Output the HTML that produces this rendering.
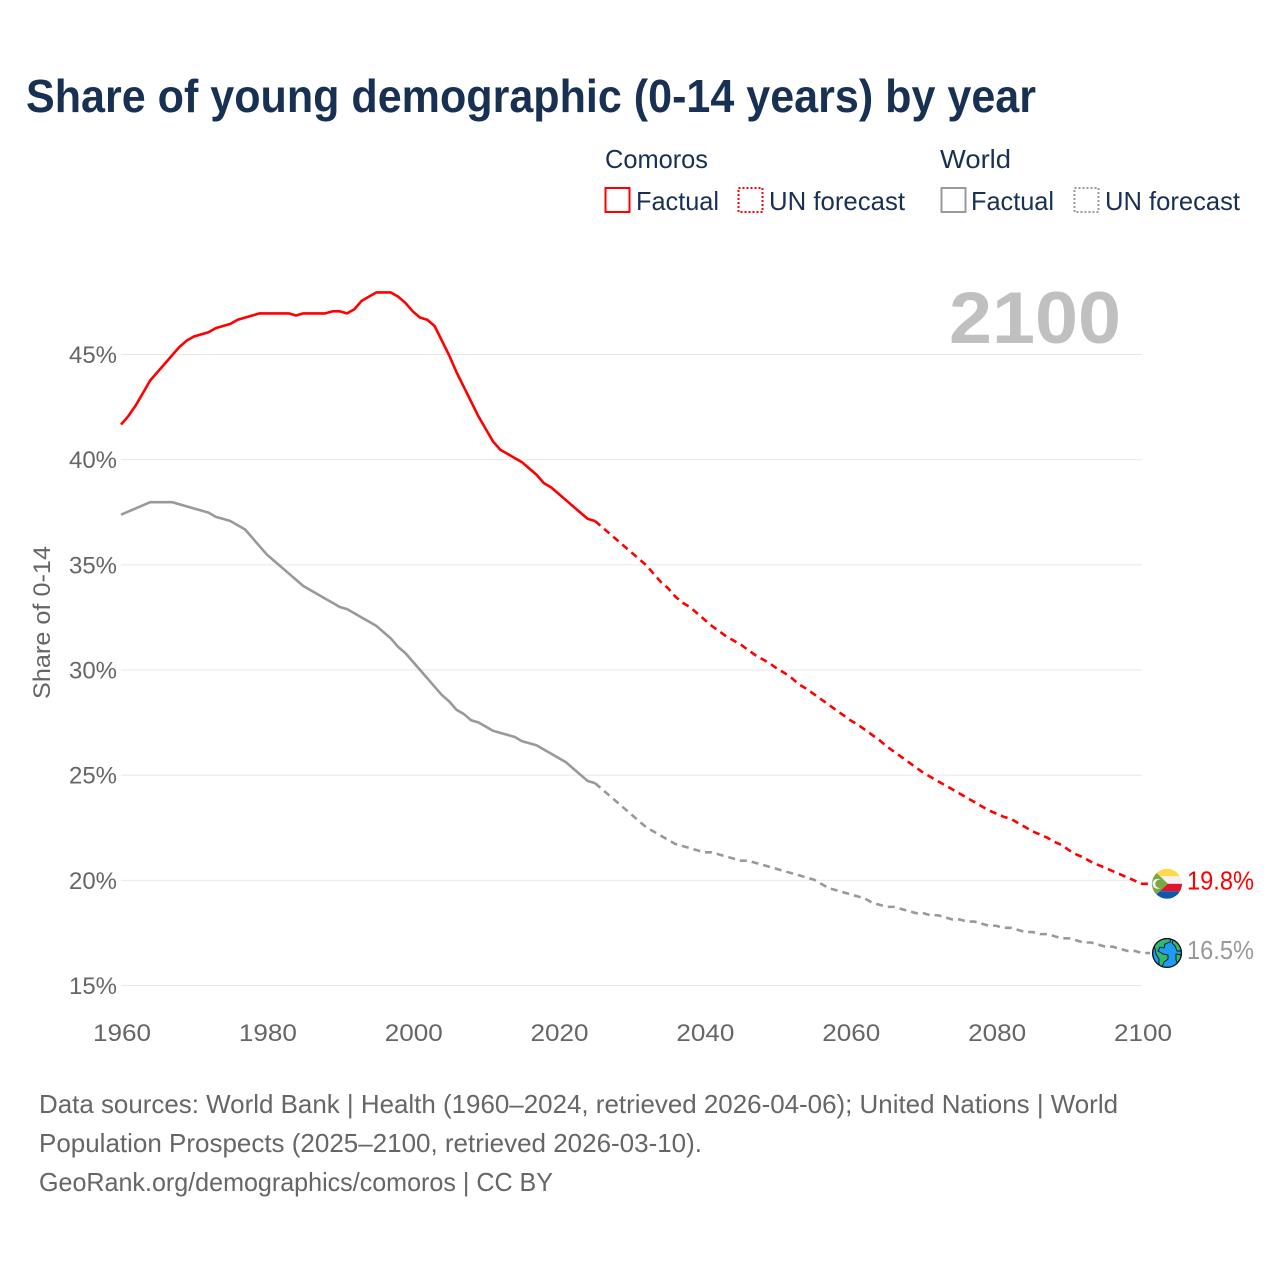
<!DOCTYPE html>
<html lang="en">
<head>
<meta charset="utf-8">
<title>Share of young demographic (0-14 years) by year</title>
<style>
html,body{margin:0;padding:0;background:#fff;width:1280px;height:1280px;overflow:hidden}
svg{display:block}
text{font-family:"Liberation Sans",Arial,sans-serif}
</style>
</head>
<body>
<svg id="chart" xmlns="http://www.w3.org/2000/svg" width="1280" height="1280" viewBox="0 0 1280 1280">
  <defs>
    <clipPath id="flag-clip"><circle cx="0" cy="0" r="15"></circle></clipPath>
  </defs>
  <rect x="0" y="0" width="1280" height="1280" fill="#fff"></rect>
  <text x="26" y="112" font-size="46" font-weight="700" fill="#183153" textLength="1010" lengthAdjust="spacingAndGlyphs">Share of young demographic (0-14 years) by year</text>

  <g font-size="26" fill="#183153">
    <text x="605" y="168" textLength="103" lengthAdjust="spacingAndGlyphs">Comoros</text>
    <text x="940" y="168" textLength="71" lengthAdjust="spacingAndGlyphs">World</text>
    <rect x="605.5" y="188" width="24" height="24" fill="none" stroke="#ff0000" stroke-width="2"></rect>
    <text x="636" y="210" textLength="83" lengthAdjust="spacingAndGlyphs">Factual</text>
    <rect x="738.5" y="188" width="24" height="24" fill="none" stroke="#ff0000" stroke-width="2" stroke-dasharray="2 2"></rect>
    <text x="769" y="210" textLength="136" lengthAdjust="spacingAndGlyphs">UN forecast</text>
    <rect x="941.5" y="188" width="24" height="24" fill="none" stroke="#999999" stroke-width="2"></rect>
    <text x="971" y="210" textLength="83" lengthAdjust="spacingAndGlyphs">Factual</text>
    <rect x="1074.5" y="188" width="24" height="24" fill="none" stroke="#999999" stroke-width="2" stroke-dasharray="2 2"></rect>
    <text x="1105" y="210" textLength="135" lengthAdjust="spacingAndGlyphs">UN forecast</text>
  </g>

  <g id="grid"></g>
  <text x="949" y="343" font-size="73" font-weight="700" fill="#c0c0c0" textLength="172" lengthAdjust="spacingAndGlyphs">2100</text>
  <g id="y-ticks" font-size="24" fill="#666666" text-anchor="end"></g>
  <g id="x-ticks" font-size="24" fill="#666666" text-anchor="middle"></g>
  <text transform="translate(50,622.5) rotate(-90)" font-size="24" fill="#666666" text-anchor="middle" textLength="153" lengthAdjust="spacingAndGlyphs">Share of 0-14</text>
  <g id="series" fill="none" stroke-width="2.6" stroke-linejoin="round"></g>

  <g id="flag-comoros">
    <g clip-path="url(#flag-clip)">
      <rect x="-15" y="-15" width="30" height="7.5" fill="#ffd84d"></rect>
      <rect x="-15" y="-7.5" width="30" height="7.5" fill="#f2f2f2"></rect>
      <rect x="-15" y="0" width="30" height="7.5" fill="#e0142f"></rect>
      <rect x="-15" y="7.5" width="30" height="7.5" fill="#0a56b0"></rect>
      <polygon points="-15,-15 1,0 -15,15" fill="#7aa845"></polygon>
      <circle cx="-9.5" cy="0" r="5" fill="#f4f4f4"></circle>
      <circle cx="-7.5" cy="0" r="4.2" fill="#7aa845"></circle>
    </g>
  </g>
  <g id="flag-world">
    <g clip-path="url(#flag-clip)">
      <circle cx="0" cy="0" r="15" fill="#1e9cf5"></circle>
      <path d="M-13,-9 L-6,-15 L4,-15 L3,-11 L-2,-9 L-3,-5 L-7,-6 L-9,-2 L-4,1 L1,2 L1,6 L-3,9 L-5,14 L-8,12 L-8,6 L-11,1 Z" fill="#2dbb72" stroke="#111" stroke-width="0.9"></path>
      <path d="M7,-14 L15,-8 L15,-2 L10,-2 L8,-7 L5,-10 Z M9,1 L15,2 L14,9 L11,11 L9,7 Z" fill="#2dbb72" stroke="#111" stroke-width="0.9"></path>
    </g>
    <circle cx="0" cy="0" r="14.4" fill="none" stroke="#111" stroke-width="1.3"></circle>
  </g>

  <text id="label-comoros" x="1187" font-size="26" fill="#ff0000" textLength="67" lengthAdjust="spacingAndGlyphs"></text>
  <text id="label-world" x="1187" font-size="26" fill="#999999" textLength="67" lengthAdjust="spacingAndGlyphs"></text>

  <g font-size="26" fill="#666666">
    <text x="39" y="1113" textLength="1079" lengthAdjust="spacingAndGlyphs">Data sources: World Bank | Health (1960–2024, retrieved 2026-04-06); United Nations | World</text>
    <text x="39" y="1152" textLength="663" lengthAdjust="spacingAndGlyphs">Population Prospects (2025–2100, retrieved 2026-03-10).</text>
    <text x="39" y="1191" textLength="514" lengthAdjust="spacingAndGlyphs">GeoRank.org/demographics/comoros | CC BY</text>
  </g>
</svg>

<script>
const yTickValues = [15, 20, 25, 30, 35, 40, 45];
const xTickValues = [1960, 1980, 2000, 2020, 2040, 2060, 2080, 2100];
const factualFirstYear = 1960;
const forecastFirstYear = 2025;

const comorosFactual = [
  41.7,42.1,42.6,43.2,43.8,44.2,44.6,45.0,45.4,45.7,
  45.9,46.0,46.1,46.3,46.4,46.5,46.7,46.8,46.9,47.0,
  47.0,47.0,47.0,47.0,46.9,47.0,47.0,47.0,47.0,47.1,
  47.1,47.0,47.2,47.6,47.8,48.0,48.0,48.0,47.8,47.5,
  47.1,46.8,46.7,46.4,45.7,45.0,44.2,43.5,42.8,42.1,
  41.5,40.9,40.5,40.3,40.1,39.9,39.6,39.3,38.9,38.7,
  38.4,38.1,37.8,37.5,37.2
];
const comorosForecast = [
  37.1,36.8,36.5,36.2,35.9,35.6,35.3,35.0,34.6,34.2,33.9,33.5,33.2,33.0,32.7,32.4,
  32.1,31.85,31.6,31.4,31.2,30.95,30.7,30.5,30.3,30.05,
  29.85,29.6,29.3,29.1,28.85,28.6,28.35,28.1,27.85,27.6,
  27.4,27.15,26.9,26.65,26.35,26.1,25.85,25.6,25.35,25.1,
  24.9,24.7,24.5,24.3,24.1,23.9,23.7,23.5,23.3,23.15,
  23.0,22.9,22.7,22.5,22.3,22.15,22.0,21.8,21.65,21.4,
  21.2,21.05,20.85,20.7,20.55,20.4,20.25,20.1,19.95,19.8
];
const worldFactual = [
  37.4,37.55,37.7,37.85,38.0,38.0,38.0,38.0,37.9,37.8,
  37.7,37.6,37.5,37.3,37.2,37.1,36.9,36.7,36.3,35.9,
  35.5,35.2,34.9,34.6,34.3,34.0,33.8,33.6,33.4,33.2,
  33.0,32.9,32.7,32.5,32.3,32.1,31.8,31.5,31.1,30.8,
  30.4,30.0,29.6,29.2,28.8,28.5,28.1,27.9,27.6,27.5,
  27.3,27.1,27.0,26.9,26.8,26.6,26.5,26.4,26.2,26.0,
  25.8,25.6,25.3,25.0,24.7
];
const worldForecast = [
  24.6,24.3,24.0,23.7,23.4,23.1,22.8,22.5,22.3,22.1,21.9,21.7,21.6,21.5,21.4,21.3,
  21.3,21.2,21.1,21.0,20.9,20.9,20.8,20.7,20.6,20.5,
  20.4,20.3,20.2,20.1,20.0,19.8,19.6,19.5,19.4,19.3,
  19.2,19.1,18.9,18.8,18.7,18.7,18.6,18.5,18.4,18.4,
  18.3,18.3,18.2,18.1,18.1,18.0,18.0,17.9,17.8,17.8,
  17.7,17.7,17.6,17.5,17.5,17.4,17.4,17.3,17.2,17.2,
  17.1,17.0,17.0,16.9,16.8,16.8,16.7,16.6,16.6,16.5
];

const SVG_NS = 'http://www.w3.org/2000/svg';
function xScale(year) { return 121 + (year - 1960) * (1142 - 121) / 140; }
function yScale(pct) { return 985.5 - (pct - 15) * (985.5 - 354.5) / 30; }
function yLine(pct) { return 953 - (pct - 16.5) * 20.97; }
function pathFrom(values, firstYear) {
  return values.map(function (v, i) {
    return (i ? 'L' : 'M') + xScale(firstYear + i).toFixed(2) + ',' + yLine(v).toFixed(2);
  }).join(' ');
}

const gridGroup = document.getElementById('grid');
const yTickGroup = document.getElementById('y-ticks');
yTickValues.forEach(function (t) {
  const line = document.createElementNS(SVG_NS, 'line');
  
  
  line.setAttribute('x1', xScale(1960));
  line.setAttribute('x2', xScale(2100));
  line.setAttribute('y1', yScale(t));
  line.setAttribute('y2', yScale(t));
  line.setAttribute('stroke', '#e8e8e8');
  line.setAttribute('stroke-width', '1');
  gridGroup.appendChild(line);

  const label = document.createElementNS(SVG_NS, 'text');
  
  
  label.setAttribute('x', 117);
  label.setAttribute('y', yScale(t) + 8.5);
  label.setAttribute('textLength', '48');
  label.setAttribute('lengthAdjust', 'spacingAndGlyphs');
  label.textContent = t + '%';
  yTickGroup.appendChild(label);
});

const xTickGroup = document.getElementById('x-ticks');
xTickValues.forEach(function (t) {
  const label = document.createElementNS(SVG_NS, 'text');
  
  
  label.setAttribute('x', xScale(t) + 1);
  label.setAttribute('y', 1041);
  label.setAttribute('textLength', '58');
  label.setAttribute('lengthAdjust', 'spacingAndGlyphs');
  label.textContent = t;
  xTickGroup.appendChild(label);
});

const seriesGroup = document.getElementById('series');
function drawSeries(factual, forecast, color, key) {
  const solid = document.createElementNS(SVG_NS, 'path');
  
  
  solid.setAttribute('d', pathFrom(factual.concat(forecast.slice(0, 1)), factualFirstYear));
  solid.setAttribute('stroke', color);
  seriesGroup.appendChild(solid);

  const lastYear = forecastFirstYear + forecast.length - 1;
  const lastValue = forecast[forecast.length - 1];
  const dashed = document.createElementNS(SVG_NS, 'path');
  
  
  dashed.setAttribute('d', pathFrom(forecast, forecastFirstYear) + ' L' + (xScale(lastYear) + 8) + ',' + yLine(lastValue));
  dashed.setAttribute('stroke', color);
  dashed.setAttribute('stroke-dasharray', '7 5');
  seriesGroup.appendChild(dashed);
}
drawSeries(comorosFactual, comorosForecast, '#ff0000', 'comoros');
drawSeries(worldFactual, worldForecast, '#999999', 'world');

function placeEnd(flagId, labelId, values, baselineOffset) {
  const last = values[values.length - 1];
  document.getElementById(flagId).setAttribute('transform', 'translate(1167,' + yLine(last).toFixed(2) + ')');
  const label = document.getElementById(labelId);
  label.setAttribute('y', yLine(last) + baselineOffset);
  label.textContent = last.toFixed(1) + '%';
}
placeEnd('flag-comoros', 'label-comoros', comorosForecast, 5.5);
placeEnd('flag-world', 'label-world', worldForecast, 6);
</script>
</body>
</html>
